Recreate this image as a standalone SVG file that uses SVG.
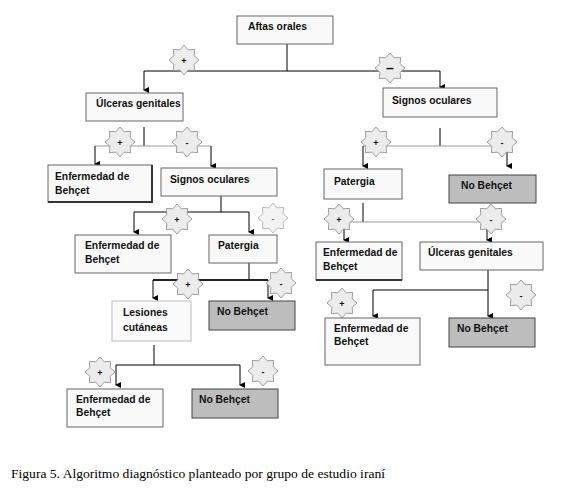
<svg xmlns="http://www.w3.org/2000/svg" width="576" height="490" viewBox="0 0 576 490">
<style>
.box{fill:#f9f9f9;stroke:#666;stroke-width:1}
.shadow{fill:none;stroke:#333;stroke-width:2}
.gray{fill:#bdbdbd;stroke:#444;stroke-width:1}
.t{font-family:"Liberation Sans",Arial,sans-serif;font-size:10.3px;font-weight:bold;fill:#111}
.s{font-family:"Liberation Sans",Arial,sans-serif;font-size:9px;font-weight:bold;fill:#111;text-anchor:middle}
.star{fill:#ececec;stroke:#888;stroke-width:0.8}
.c{stroke:#000;stroke-width:1;fill:none}
.cg{stroke:#999;stroke-width:1;fill:none}
.cap{font-family:"Liberation Serif","Times New Roman",serif;font-size:13px;fill:#000}
</style>
<defs>
<polygon id="star" points="15,0 10.16,4.21 10.61,10.61 4.21,10.16 0,15 -4.21,10.16 -10.61,10.61 -10.16,4.21 -15,0 -10.16,-4.21 -10.61,-10.61 -4.21,-10.16 0,-15 4.21,-10.16 10.61,-10.61 10.16,-4.21"/>
<marker id="ah" markerWidth="6" markerHeight="6" refX="3" refY="5" orient="auto-start-reverse" markerUnits="userSpaceOnUse" viewBox="0 0 6 6">
<path d="M0,0 L6,0 L3,6 Z" fill="#000"/>
</marker>
</defs>
<rect width="576" height="490" fill="#fff"/>

<g id="connectors">
<line class="c" x1="287" y1="44" x2="287" y2="71"/>
<line class="c" x1="144" y1="71" x2="440" y2="71"/>
<line class="c" x1="144" y1="71" x2="144" y2="90" marker-end="url(#ah)"/>
<line class="c" x1="440" y1="71" x2="440" y2="87" marker-end="url(#ah)"/>

<line class="c" x1="144" y1="127" x2="144" y2="146"/>
<line class="cg" x1="95" y1="146" x2="211" y2="146"/>
<line class="c" x1="95" y1="146" x2="95" y2="164" marker-end="url(#ah)"/>
<line class="c" x1="211" y1="146" x2="211" y2="166" marker-end="url(#ah)"/>

<line class="c" x1="221" y1="196" x2="221" y2="212"/>
<line class="c" x1="134" y1="212" x2="249" y2="212"/>
<line class="c" x1="134" y1="212" x2="134" y2="232" marker-end="url(#ah)"/>
<line class="c" x1="249" y1="212" x2="249" y2="232" marker-end="url(#ah)"/>

<line class="c" x1="249" y1="263" x2="249" y2="280"/>
<line stroke="#222" stroke-width="2" x1="153" y1="280" x2="268" y2="280"/>
<line class="c" x1="153" y1="280" x2="153" y2="298" marker-end="url(#ah)"/>
<line class="c" x1="268" y1="280" x2="268" y2="298" marker-end="url(#ah)"/>

<line class="c" x1="154" y1="345" x2="154" y2="365"/>
<line class="c" x1="116" y1="365" x2="240" y2="365"/>
<line class="c" x1="116" y1="365" x2="116" y2="385" marker-end="url(#ah)"/>
<line class="c" x1="240" y1="365" x2="240" y2="385" marker-end="url(#ah)"/>

<line class="c" x1="440" y1="128" x2="440" y2="146"/>
<line class="cg" x1="363" y1="146" x2="507" y2="146"/>
<line class="c" x1="363" y1="146" x2="363" y2="166" marker-end="url(#ah)"/>
<line class="c" x1="507" y1="146" x2="507" y2="166" marker-end="url(#ah)"/>

<line class="c" x1="363" y1="203" x2="363" y2="222"/>
<line class="cg" x1="344" y1="222" x2="487" y2="222"/>
<line class="c" x1="344" y1="222" x2="344" y2="240" marker-end="url(#ah)"/>
<line class="c" x1="487" y1="222" x2="487" y2="240" marker-end="url(#ah)"/>

<line class="c" x1="488" y1="270" x2="488" y2="290"/>
<line class="c" x1="373" y1="290" x2="488" y2="290"/>
<line class="c" x1="373" y1="290" x2="373" y2="316" marker-end="url(#ah)"/>
<line class="c" x1="488" y1="290" x2="488" y2="316" marker-end="url(#ah)"/>
</g>

<g id="signs">
<use href="#star" class="star" x="184" y="60"/><text class="s" x="184" y="64">+</text>
<use href="#star" class="star" x="390" y="68"/><text class="s" x="390" y="73" style="font-size:14px">–</text>
<use href="#star" class="star" x="120" y="142"/><text class="s" x="120" y="146">+</text>
<use href="#star" class="star" x="187" y="142"/><text class="s" x="187" y="146">-</text>
<use href="#star" class="star" x="177" y="219"/><text class="s" x="177" y="223">+</text>
<use href="#star" class="star" x="273" y="218" style="fill:#f3f3f3;stroke:#aaa"/><text class="s" x="273" y="222" style="fill:#777">-</text>
<use href="#star" class="star" x="188" y="284"/><text class="s" x="188" y="288">+</text>
<use href="#star" class="star" x="281" y="283"/><text class="s" x="281" y="287">-</text>
<use href="#star" class="star" x="100" y="372"/><text class="s" x="100" y="376">+</text>
<use href="#star" class="star" x="263" y="371"/><text class="s" x="263" y="375">-</text>
<use href="#star" class="star" x="376" y="142"/><text class="s" x="376" y="146">+</text>
<use href="#star" class="star" x="502" y="142"/><text class="s" x="502" y="146">-</text>
<use href="#star" class="star" x="339" y="219"/><text class="s" x="339" y="223">+</text>
<use href="#star" class="star" x="491" y="219"/><text class="s" x="491" y="223">-</text>
<use href="#star" class="star" x="342" y="303"/><text class="s" x="342" y="307">+</text>
<use href="#star" class="star" x="521" y="295"/><text class="s" x="521" y="299">-</text>
</g>

<g id="n-aftas">
<rect class="box" x="237" y="16" width="96" height="28"/>
<text class="t" x="248" y="30">Aftas orales</text>
</g>
<g id="n-ulceras1">
<rect class="box" x="86" y="93" width="97" height="28"/>
<text class="t" x="96" y="107">Úlceras genitales</text>
</g>
<g id="n-signos2">
<rect class="box" x="383" y="88" width="114" height="29"/>
<text class="t" x="392" y="104">Signos oculares</text>
</g>
<g id="n-behcet1">
<rect class="box" x="48" y="165" width="104" height="37"/>
<polyline class="shadow" points="152,165 152,202 48,202"/>
<text class="t" x="55" y="180">Enfermedad de</text>
<text class="t" x="55" y="194">Behçet</text>
</g>
<g id="n-signos1">
<rect class="box" x="161" y="168" width="116" height="28"/>
<text class="t" x="170" y="183">Signos oculares</text>
</g>
<g id="n-patergia2">
<rect class="box" x="324" y="169" width="78" height="30"/>
<text class="t" x="334" y="185">Patergia</text>
</g>
<g id="n-nob1">
<rect class="gray" x="449" y="175" width="87" height="28"/>
<text class="t" x="461" y="189">No Behçet</text>
</g>
<g id="n-behcet2">
<rect class="box" x="75" y="235" width="96" height="38"/>
<text class="t" x="85" y="249">Enfermedad de</text>
<text class="t" x="85" y="263">Behçet</text>
</g>
<g id="n-patergia1">
<rect class="box" x="209" y="235" width="68" height="28"/>
<text class="t" x="218" y="249">Patergia</text>
</g>
<g id="n-behcet4">
<rect class="box" x="316" y="242" width="86" height="38"/>
<polyline class="shadow" points="316,280 402,280"/>
<text class="t" x="323" y="256">Enfermedad de</text>
<text class="t" x="323" y="270">Behçet</text>
</g>
<g id="n-ulceras2">
<rect class="box" x="420" y="242" width="123" height="28"/>
<text class="t" x="428" y="256">Úlceras genitales</text>
</g>
<g id="n-lesiones">
<rect x="112" y="301" width="79" height="40" fill="#fbfbfb" stroke="#bbb"/>
<text class="t" x="123" y="316">Lesiones</text>
<text class="t" x="123" y="331">cutáneas</text>
</g>
<g id="n-nob2">
<rect class="gray" x="209" y="301" width="86" height="29"/>
<text class="t" x="217" y="315">No Behçet</text>
</g>
<g id="n-behcet5">
<rect class="box" x="325" y="318" width="95" height="47"/>
<text class="t" x="334" y="332">Enfermedad de</text>
<text class="t" x="334" y="345">Behçet</text>
</g>
<g id="n-nob4">
<rect class="gray" x="449" y="318" width="86" height="29"/>
<text class="t" x="457" y="332">No Behçet</text>
</g>
<g id="n-behcet3">
<rect class="box" x="67" y="389" width="96" height="38"/>
<text class="t" x="76" y="403">Enfermedad de</text>
<text class="t" x="76" y="416">Behçet</text>
</g>
<g id="n-nob3">
<rect class="gray" x="192" y="389" width="86" height="29"/>
<text class="t" x="199" y="403">No Behçet</text>
</g>

<text class="cap" x="11" y="478" textLength="374" lengthAdjust="spacingAndGlyphs">Figura 5. Algoritmo diagnóstico planteado por grupo de estudio iraní</text>
</svg>
